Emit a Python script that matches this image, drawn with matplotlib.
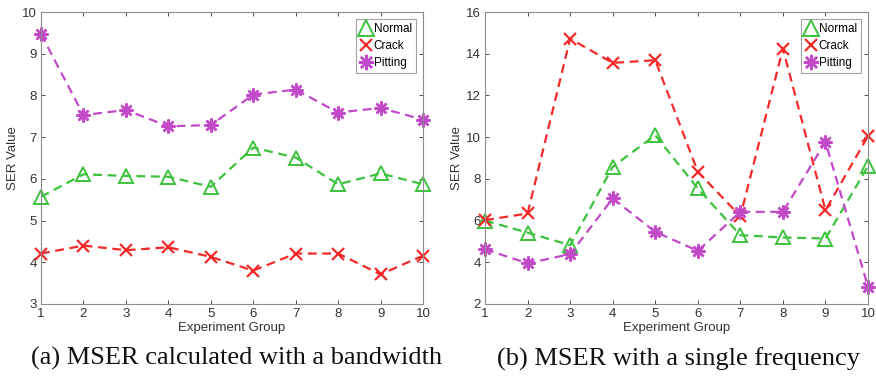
import matplotlib
matplotlib.use("Agg")
import matplotlib.pyplot as plt

groups = [1, 2, 3, 4, 5, 6, 7, 8, 9, 10]

# (a) MSER calculated with a bandwidth
a_normal = [5.57, 6.11, 6.07, 6.05, 5.81, 6.75, 6.51, 5.87, 6.13, 5.87]
a_crack = [4.21, 4.40, 4.29, 4.36, 4.13, 3.80, 4.21, 4.21, 3.71, 4.16]
a_pitting = [9.47, 7.53, 7.65, 7.26, 7.29, 8.02, 8.14, 7.59, 7.70, 7.42]

# (b) MSER with a single frequency
b_normal = [6.00, 5.42, 4.82, 8.58, 10.09, 7.54, 5.30, 5.19, 5.14, 8.61]
b_crack = [6.02, 6.34, 14.72, 13.56, 13.69, 8.34, 6.21, 14.24, 6.50, 10.05]
b_pitting = [4.62, 3.95, 4.39, 7.06, 5.46, 4.55, 6.42, 6.42, 9.77, 2.83]

labels = ["Normal", "Crack", "Pitting"]
captions = ["(a) MSER calculated with a bandwidth", "(b) MSER with a single frequency"]

GREEN = "#3cc23c"
RED = "#f42a2a"
MAG = "#c24ac8"

plt.rcParams["font.family"] = ["Liberation Sans", "DejaVu Sans"]

fig = plt.figure(figsize=(8.76, 3.81), dpi=100)
axA = fig.add_axes([0.0468, 0.2021, 0.4361, 0.7664])
axB = fig.add_axes([0.5537, 0.2021, 0.4372, 0.7664])


def draw(ax, normal, crack, pitting, ylim, yticks):
    ax.plot(groups, normal, ls=(0, (4, 2.5)), color=GREEN, lw=1.6, marker="^",
            ms=10, mfc="none", mec=GREEN, mew=1.4, label=labels[0], clip_on=False)
    ax.plot(groups, crack, ls=(0, (4, 2.5)), color=RED, lw=1.6, marker="x",
            ms=8, mec=RED, mew=1.6, label=labels[1], clip_on=False)
    ax.plot(groups, pitting, ls=(0, (4, 2.5)), color=MAG, lw=1.6, marker=(8, 2, 0),
            ms=10, mfc=MAG, mec=MAG, mew=1.8, label=labels[2], clip_on=False)
    ax.set_xlim(1, 10)
    ax.set_ylim(*ylim)
    ax.set_xticks(groups)
    ax.set_yticks(yticks)
    ax.tick_params(direction="in", top=True, right=True, labelsize=9.5,
                   colors="#333333", length=3, width=0.6, pad=3)
    for s in ax.spines.values():
        s.set_color("#8c8c8c")
        s.set_linewidth(0.8)
    ax.set_xlabel("Experiment Group", fontsize=9.5, color="#333333", labelpad=1)
    ax.set_ylabel("SER Value", fontsize=9.5, color="#333333", labelpad=2)
    leg = ax.legend(loc="upper right", fontsize=8.5, frameon=True, fancybox=False,
                    borderpad=0.35, handlelength=1.0, handletextpad=0.15,
                    labelspacing=0.4, borderaxespad=0.6, markerscale=1.1)
    leg.get_frame().set_edgecolor("#8c8c8c")
    leg.get_frame().set_linewidth(0.8)
    for h in leg.legend_handles:
        h.set_linestyle("none")


draw(axA, a_normal, a_crack, a_pitting, (3, 10), [3, 4, 5, 6, 7, 8, 9, 10])
draw(axB, b_normal, b_crack, b_pitting, (2, 16), [2, 4, 6, 8, 10, 12, 14, 16])

fig.text(0.2705, 0.058, captions[0], ha="center", va="center", fontsize=19,
         family=["Liberation Serif"], color="#111111")
fig.text(0.775, 0.058, captions[1], ha="center", va="center", fontsize=19,
         family=["Liberation Serif"], color="#111111")

fig.savefig("out.png", dpi=100)
